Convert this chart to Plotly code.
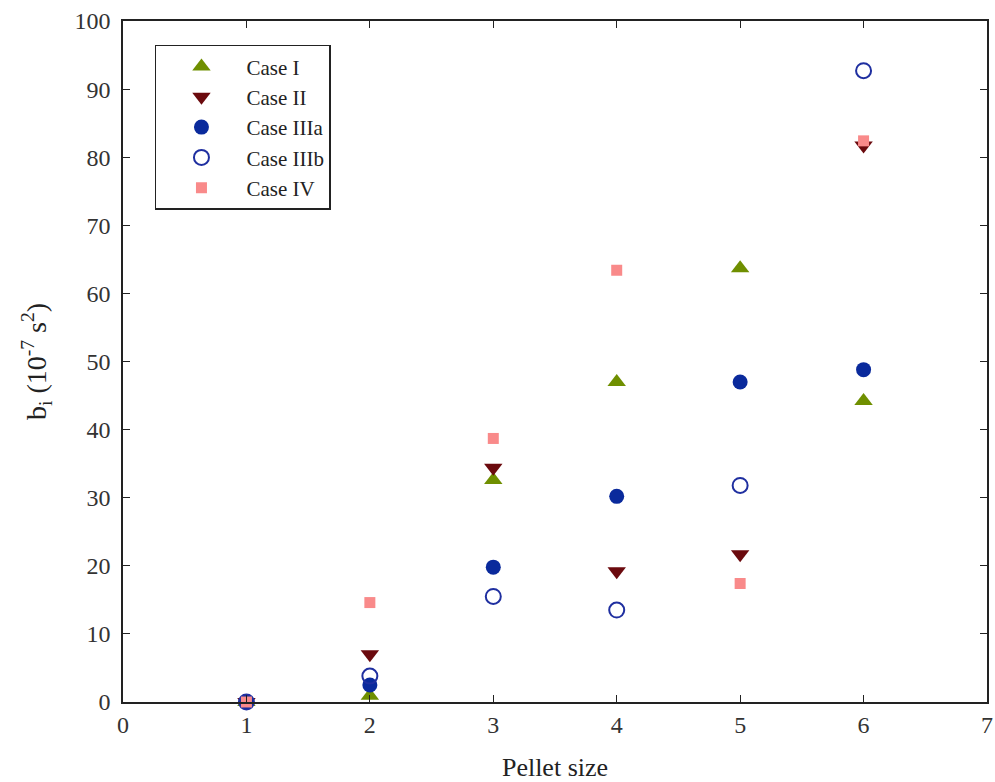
import plotly.graph_objects as go

# Pellet size classes
pellet_size = [1, 2, 3, 4, 5, 6]

# b_i coefficients (10^-7 s^2) for each case
case_i = [0.0, 0.9, 32.6, 47.0, 63.7, 44.2]
case_ii = [0.0, 7.0, 34.4, 19.2, 21.7, 81.7]
case_iiia = [0.0, 2.5, 19.8, 30.2, 47.0, 48.8]
case_iiib = [0.0, 3.8, 15.5, 13.5, 31.8, 92.7]
case_iv = [0.0, 14.6, 38.7, 63.4, 17.4, 82.4]

x_ticks = [0, 1, 2, 3, 4, 5, 6, 7]
y_ticks = [0, 10, 20, 30, 40, 50, 60, 70, 80, 90, 100]

FONT = "Liberation Serif, Times New Roman, serif"

series = [
    ("Case I", case_i, dict(symbol="triangle-up", size=16, color="#6f8f00")),
    ("Case II", case_ii, dict(symbol="triangle-down", size=16, color="#6b0a0e")),
    ("Case IIIa", case_iiia, dict(symbol="circle", size=15, color="#0a2a9c")),
    ("Case IIIb", case_iiib, dict(symbol="circle-open", size=15, color="#1f2fa0",
                                  line=dict(width=2, color="#1f2fa0"))),
    ("Case IV", case_iv, dict(symbol="square", size=11, color="#f98a8a")),
]

fig = go.Figure()
for name, values, marker in series:
    fig.add_trace(go.Scatter(x=pellet_size, y=values, mode="markers",
                             name=name, marker=marker, cliponaxis=False))

axis_common = dict(
    showline=True, linecolor="#222222", linewidth=1.5, mirror="ticks",
    ticks="inside", ticklen=7, tickcolor="#222222", tickwidth=1,
    showgrid=False, zeroline=False, automargin=False,
    tickfont=dict(family=FONT, size=24, color="#333333"),
)

fig.update_xaxes(range=[0, 7], tickvals=x_ticks,
                 title=dict(text="Pellet size", font=dict(family=FONT, size=26, color="#222222"),
                            standoff=22),
                 **axis_common)
fig.update_yaxes(range=[0, 100], tickvals=y_ticks, ticklabelstandoff=6,
                 title=dict(text="b<sub>i</sub> (10<sup>-7</sup> s<sup>2</sup>)",
                            font=dict(family=FONT, size=28, color="#222222"), standoff=20),
                 **axis_common)

fig.update_layout(
    width=995, height=782,
    margin=dict(l=123, r=8, t=21, b=80),
    paper_bgcolor="white", plot_bgcolor="white",
    legend=dict(x=0.037, y=0.965, xanchor="left", yanchor="top",
                bgcolor="white", bordercolor="#222222", borderwidth=1.5,
                font=dict(family=FONT, size=21, color="#222222"),
                itemwidth=80, tracegroupgap=0),
    showlegend=True,
)

fig.write_html("out.html")
